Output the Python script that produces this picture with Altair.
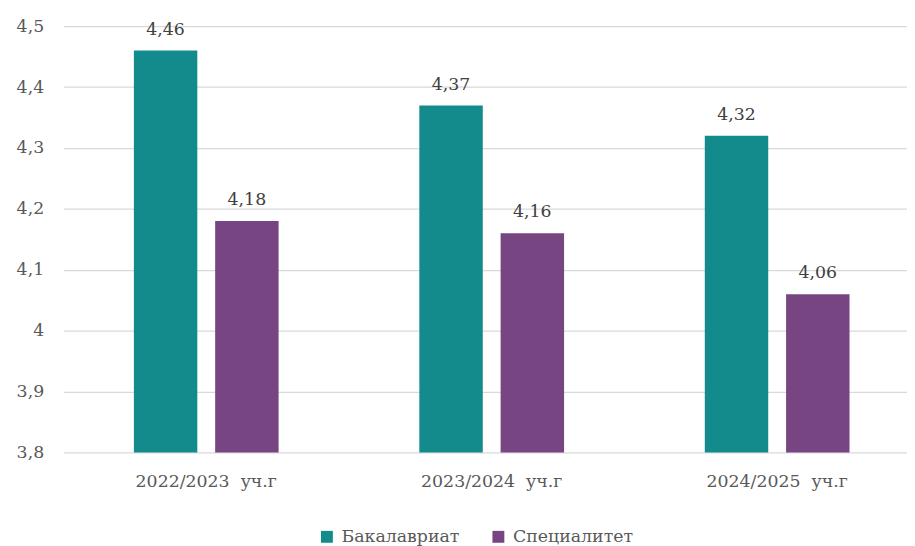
import altair as alt
import pandas as pd

years = ["2022/2023\u00a0 уч.г", "2023/2024\u00a0 уч.г", "2024/2025\u00a0 уч.г"]
series = ["Бакалавриат", "Специалитет"]
bachelor = [4.46, 4.37, 4.32]
specialist = [4.18, 4.16, 4.06]
colors = ["#138B8D", "#774582"]
y_min, y_max = 3.8, 4.5
y_ticks = [3.8, 3.9, 4.0, 4.1, 4.2, 4.3, 4.4, 4.5]

rows = []
for i, yr in enumerate(years):
    rows.append({"year": yr, "series": series[0], "value": bachelor[i]})
    rows.append({"year": yr, "series": series[1], "value": specialist[i]})
df = pd.DataFrame(rows)
df["label"] = df["value"].map(lambda v: f"{v:.2f}".replace(".", ","))

FONT = "DejaVu Serif"
FS = 17.5
AX = "#595959"

x = alt.X(
    "year:N", sort=years, title=None,
    scale=alt.Scale(range=[0, 864], paddingInner=0.493, paddingOuter=0.2465),
    axis=alt.Axis(labelAngle=0, ticks=False, domain=False, labelPadding=20,
                  labelFontSize=FS, labelColor=AX, labelFont=FONT, grid=False),
)
xo = alt.XOffset("series:N", sort=series,
                 scale=alt.Scale(paddingInner=0.2195, paddingOuter=0))
y = alt.Y(
    "value:Q", title=None,
    scale=alt.Scale(domain=[y_min, y_max], zero=False, nice=False),
    axis=alt.Axis(values=y_ticks, ticks=False, domain=False, labelPadding=20,
                  labelFontSize=FS, labelColor=AX, labelFont=FONT,
                  gridColor="#d9d9d9", gridWidth=1.3,
                  labelExpr="replace(format(datum.value, '~g'), '.', ',')"),
)
color = alt.Color(
    "series:N", sort=series,
    scale=alt.Scale(domain=series, range=colors),
    legend=alt.Legend(title=None, orient="none", direction="horizontal",
                      legendX=257, legendY=506, padding=0,
                      symbolType="square", symbolSize=144, symbolStrokeWidth=0,
                      labelFontSize=FS, labelFont=FONT, labelColor=AX,
                      labelOffset=6, columnPadding=30),
)

base = alt.Chart(df)
bars = base.mark_bar().encode(x=x, xOffset=xo, y=y, y2=alt.datum(y_min), color=color)
labels = base.mark_text(baseline="alphabetic", dy=-16, fontSize=FS, font=FONT,
                        color="#404040").encode(x=x, xOffset=xo, y=y, text="label:N")

chart = (
    alt.layer(bars, labels)
    .properties(width=851, height=430,
                autosize=alt.AutoSizeParams(type="none"),
                padding={"left": 56, "top": 16, "right": 0, "bottom": 92})
    .configure_view(stroke=None)
)
chart.save("out.html", embed_options={"renderer": "svg", "actions": False})
